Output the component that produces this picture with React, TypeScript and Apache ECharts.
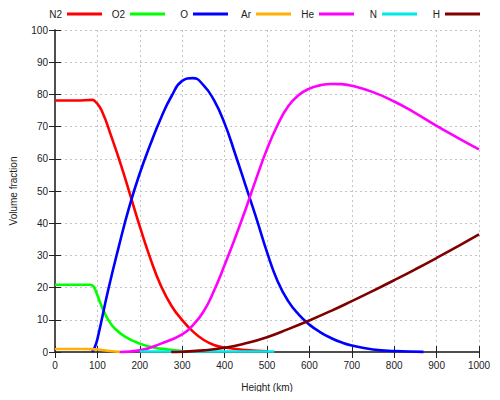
import React, { useRef, useEffect } from 'react';
import * as echarts from 'echarts';

// series names as shown in the legend (left to right)
const seriesNames = ['N2', 'O2', 'O', 'Ar', 'He', 'N', 'H'];
const seriesColors = ['#ff0000', '#00ff00', '#0000ff', '#ffb000', '#ff00ff', '#00e8e8', '#800000'];

// heights (km) and volume fractions
const n2Heights = [0, 50, 88, 95, 110, 134, 157, 178, 200, 225, 250, 275, 300, 325, 350, 375, 400, 450, 500];
const n2Values = [78.1, 78.1, 78.3, 77.8, 75, 66.5, 57.5, 48.5, 39, 29, 20.5, 14.3, 9.9, 6.4, 3.8, 2.2, 1.4, 0.6, 0.2];

const o2Heights = [0, 50, 83, 91, 98, 106, 114, 126, 141, 165, 200, 235, 266, 298];
const o2Values = [20.9, 20.9, 20.9, 20.3, 18.3, 15.5, 13, 9.9, 7.3, 4.8, 2.6, 1.35, 0.8, 0.3];

const oHeights = [87, 93, 100, 125, 150, 175, 200, 225, 250, 275, 300, 325, 350, 375, 400, 425, 450, 475, 500, 525, 550, 575, 600, 625, 650, 675, 700, 750, 800, 869];
const oValues = [0, 1.2, 4, 19, 32.5, 45, 55.5, 64.5, 72.7, 79.5, 84.2, 85.05, 82.9, 78.2, 71, 61.5, 51.5, 41.5, 31, 22, 15.8, 11.6, 8.5, 6.2, 4.4, 3, 2, 0.8, 0.3, 0.05];

const arHeights = [0, 50, 87, 110, 130, 153];
const arValues = [0.93, 0.93, 0.9, 0.6, 0.3, 0.05];

const heHeights = [153, 200, 250, 300, 325, 350, 375, 400, 425, 450, 475, 500, 525, 550, 575, 600, 625, 650, 675, 700, 750, 800, 850, 900, 950, 1000];
const heValues = [0, 0.5, 2.6, 5.5, 8.3, 12.5, 19, 27, 35.5, 44.5, 54, 63, 70.5, 76.3, 79.8, 81.8, 82.8, 83.25, 83.2, 82.7, 80.7, 77.8, 74.2, 70.2, 66.5, 62.9];

const nHeights = [200, 300, 400, 517];
const nValues = [0.15, 0.15, 0.15, 0.15];

const hHeights = [274, 300, 350, 400, 450, 500, 550, 600, 650, 700, 750, 800, 850, 900, 950, 1000];
const hValues = [0, 0.1, 0.5, 1.3, 2.7, 4.6, 7.1, 9.8, 12.7, 15.8, 19, 22.3, 25.7, 29.2, 32.8, 36.5];

const seriesHeights = [n2Heights, o2Heights, oHeights, arHeights, heHeights, nHeights, hHeights];
const seriesValues = [n2Values, o2Values, oValues, arValues, heValues, nValues, hValues];

const xTicks = { min: 0, max: 1000, interval: 100 };
const yTicks = { min: 0, max: 100, interval: 10 };

const FONT = '"Liberation Sans", Arial, sans-serif';
const AXIS_COLOR = '#444';

const App: React.FC = () => {
  const chartRef = useRef<HTMLDivElement>(null);

  useEffect(() => {
    if (!chartRef.current) return;
    const chart = echarts.init(chartRef.current, null, { renderer: 'svg' });

    const frameAxis = {
      axisLine: { show: true, lineStyle: { color: AXIS_COLOR, width: 1.5 } },
      axisTick: { show: true, inside: true, length: 6, lineStyle: { color: '#222', width: 1 } },
      splitLine: { show: false },
    };

    const option = {
      animation: false,
      textStyle: { fontFamily: FONT },
      grid: { left: 53, right: 21, top: 30, bottom: 48 },
      legend: seriesNames.map((name, i) => ({
        data: [name],
        top: 9,
        right: 500 - (102 + 63 * i),
        align: 'right',
        icon: 'rect',
        itemWidth: 35,
        itemHeight: 3,
        itemGap: 0,
        padding: 0,
        selectedMode: false,
        textStyle: { fontSize: 10, color: '#222', fontFamily: FONT },
      })),
      xAxis: [
        {
          type: 'value',
          ...xTicks,
          ...frameAxis,
          name: 'Height (km)',
          nameLocation: 'middle',
          nameGap: 30,
          nameTextStyle: { fontSize: 10, color: '#222', fontFamily: FONT },
          axisLabel: { fontSize: 10, color: '#222', margin: 8, fontFamily: FONT, formatter: (v: number) => String(v) },
          splitLine: { show: true, lineStyle: { color: '#c4c4c4', width: 1, type: [2, 3] } },
        },
        {
          type: 'value',
          position: 'top',
          ...xTicks,
          ...frameAxis,
          axisLabel: { show: false },
        },
      ],
      yAxis: [
        {
          type: 'value',
          ...yTicks,
          ...frameAxis,
          name: 'Volume fraction',
          nameLocation: 'middle',
          nameGap: 37,
          nameTextStyle: { fontSize: 10, color: '#222', fontFamily: FONT },
          axisLabel: { fontSize: 10, color: '#222', margin: 7, fontFamily: FONT },
          splitLine: { show: true, lineStyle: { color: '#c4c4c4', width: 1, type: [2, 3] } },
        },
        {
          type: 'value',
          position: 'right',
          ...yTicks,
          ...frameAxis,
          axisLabel: { show: false },
        },
      ],
      series: seriesNames.map((name, i) => ({
        name,
        type: 'line',
        xAxisIndex: 0,
        yAxisIndex: 0,
        data: seriesHeights[i].map((h, j) => [h, seriesValues[i][j]]),
        showSymbol: false,
        smooth: 0.5,
        clip: false,
        color: seriesColors[i],
        itemStyle: { color: seriesColors[i] },
        lineStyle: { color: seriesColors[i], width: 2.6 },
      })),
    };

    chart.setOption(option);

    return () => {
      chart.dispose();
    };
  }, []);

  return <div ref={chartRef} style={{ width: 500, height: 400, margin: -8 }} />;
};

export default App;
